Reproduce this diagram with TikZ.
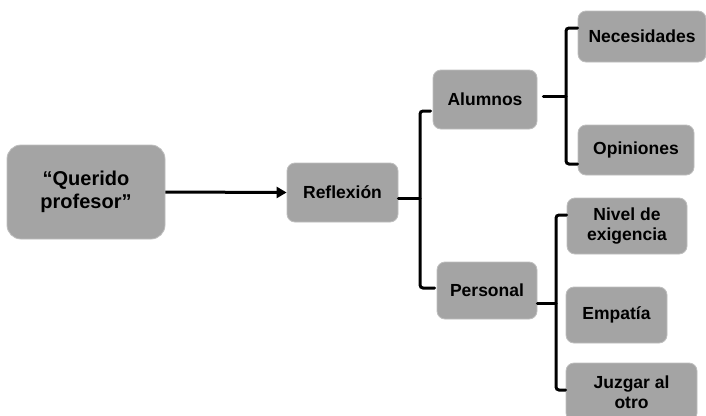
\documentclass[tikz,border=0pt]{standalone}
\usepackage{fontspec}
\setmainfont{Liberation Sans}
\usetikzlibrary{arrows.meta}
\definecolor{boxfill}{HTML}{A4A4A4}
\definecolor{boxline}{HTML}{BEBEBE}
\begin{document}
\begin{tikzpicture}[x=1pt,y=-1pt,
  box/.style={draw=boxline,line width=0.8pt,fill=boxfill,rounded corners=8pt,
    align=center,inner sep=0pt,
    font=\bfseries\fontsize{17.5}{20.5}\selectfont},
  link/.style={line width=3pt,black,line cap=round},
  brace/.style={link,rounded corners=3pt}]
\useasboundingbox[fill=white] (0,0) rectangle (706,415);

% boxes
\node[box,minimum width=158pt,minimum height=94pt,rounded corners=14pt,
      font=\bfseries\fontsize{20}{23}\selectfont] (quer) at (86,192) {“Querido\\profesor”};
\node[box,minimum width=111pt,minimum height=59pt] (refl) at (342.5,192.5) {Reflexión};
\node[box,minimum width=104pt,minimum height=59pt] (alum) at (485,99.5) {Alumnos};
\node[box,minimum width=100pt,minimum height=57pt] (pers) at (487,290.5) {Personal};
\node[box,minimum width=128pt,minimum height=51pt] (nec) at (642,36.5) {Necesidades};
\node[box,minimum width=116pt,minimum height=50pt] (opi) at (636,150) {Opiniones};
\node[box,minimum width=120pt,minimum height=56pt] (niv) at (627,226) {Nivel de\\exigencia};
\node[box,minimum width=101pt,minimum height=56pt] (emp) at (616.5,315) {Empatía};
\node[box,minimum width=131pt,minimum height=58pt] (juz) at (631.5,392) {Juzgar al\\otro};

% arrow
\draw[line width=3pt,-{Triangle[length=10pt,width=11pt]}] (quer.east) -- (refl.west);

% spine points of the brackets
\coordinate (s1) at (420,198);
\coordinate (s2) at (566,96);
\coordinate (s3) at (556,303);

% Reflexión bracket
\draw[link] ([yshift=-5.5pt]refl.east) -- (s1);
\draw[brace] ([xshift=-2pt,yshift=-11.5pt]alum.west) -| (s1) |- ([xshift=-2pt,yshift=2.5pt]pers.west);

% Alumnos bracket
\draw[link] ([xshift=6pt,yshift=3.5pt]alum.east) -- (s2);
\draw[brace] ([yshift=8.5pt]nec.west) -| (s2) |- ([yshift=-14pt]opi.west);

% Personal bracket
\draw[link] ([yshift=-12.5pt]pers.east) -- (s3);
\draw[brace] ([yshift=11pt]niv.west) -| (s3) |- ([yshift=2pt]juz.west);
\end{tikzpicture}
\end{document}
